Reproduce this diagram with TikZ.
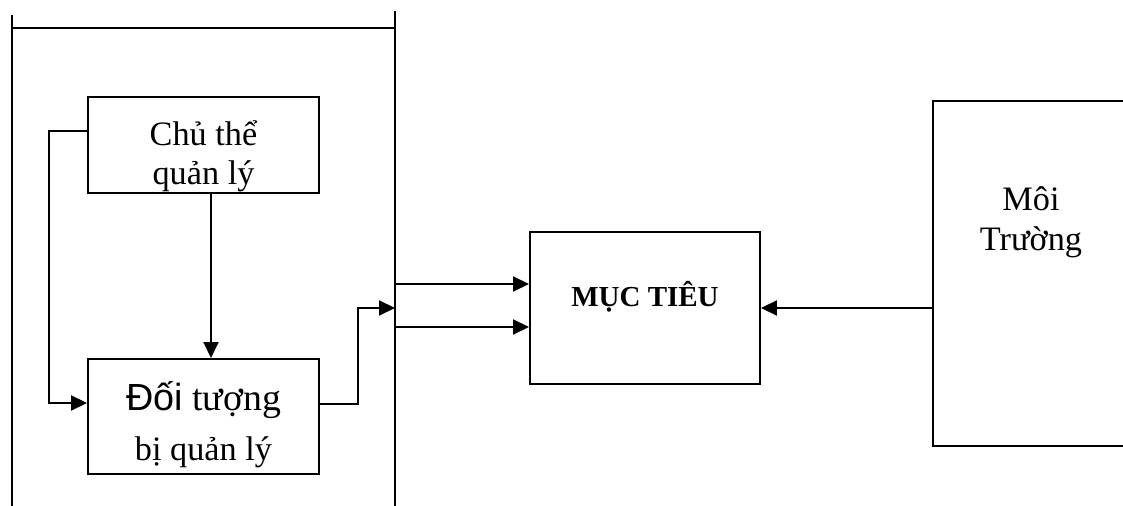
\documentclass[tikz,border=0pt]{standalone}
\usepackage{fontspec}
\setmainfont{Liberation Serif}
\newfontfamily\arialfont{Liberation Sans}
\usetikzlibrary{arrows.meta,positioning,calc}

\begin{document}
\begin{tikzpicture}[
    x=0.02cm,y=-0.02cm,
    line width=1.15pt,
    box/.style={draw,minimum width=4.62cm,align=center,inner sep=0pt,font=\fontsize{19.5}{22.2}\selectfont},
    arr/.style={-{Triangle[length=0.32cm,width=0.3cm]}}
]
\useasboundingbox (0,0) rectangle (1123,506);
% frame round the managing system
\draw (12,15) -- (12,506);
\draw (395,11) -- (395,506);
\draw (12,28) -- (395,28);
\coordinate (frin) at (395,308);
\coordinate (frout1) at (395,284);
\coordinate (frout2) at (395,327);

\node[box,minimum height=1.92cm] (chuthe) at (203.5,145) {\rule{0pt}{27pt}Chủ thể\\quản lý};
\node[box,minimum height=2.3cm] (doituong) at (203.5,416.5) {\rule{0pt}{26pt}{\fontsize{21.5}{22.2}\selectfont{\arialfont Đối} tượng}\\[6pt]bị quản lý};
\node[box,minimum width=4.6cm,minimum height=3.04cm,font=\fontsize{16.5}{20}\selectfont\bfseries] (muctieu) at (645,308) {MỤC TIÊU\rule[-16pt]{0pt}{16pt}};

% environment box, open on the right
\draw (1123,101) -| (933,446) -- (1123,446);
\node[align=center,font=\fontsize{19.5}{22.8}\selectfont] (moitruong) at (1031,222) {Môi\\Trường};
\coordinate (envin) at (933,308);

\draw[arr] ($(chuthe.south)+(7.5,0)$) -- ($(doituong.north)+(7.5,0)$);
\draw[arr] ($(chuthe.west)+(0,-14)$) -- ++(-38,0) |- ($(doituong.west)+(0,-13.5)$);
\draw[arr] ($(doituong.east)+(0,-12.5)$) -- ++(38,0) |- (frin);
\draw[arr] (frout1) -- (frout1 -| muctieu.west);
\draw[arr] (frout2) -- (frout2 -| muctieu.west);
\draw[arr] (envin) -- (muctieu.east);
\end{tikzpicture}
\end{document}
